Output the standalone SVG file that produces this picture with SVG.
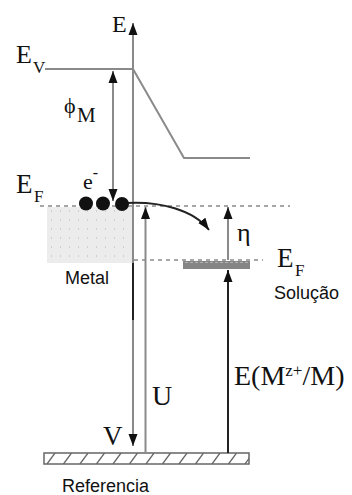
<svg xmlns="http://www.w3.org/2000/svg" width="352" height="495" viewBox="0 0 352 495">
<defs>
<style>
.ln{stroke:#8a8a8a;stroke-width:2;fill:none}
.dk{stroke:#222;stroke-width:2;fill:none}
.ds{stroke:#8a8a8a;stroke-width:1.5;stroke-dasharray:4 4;fill:none}
.sf{font-family:"Liberation Serif","Times New Roman",serif;fill:#111}
.ss{font-family:"Liberation Sans",Arial,sans-serif;fill:#111;font-size:18px}
.hatch{stroke:#666;stroke-width:1.3}
</style>
<marker id="ah" markerUnits="userSpaceOnUse" markerWidth="12" markerHeight="10" refX="12" refY="5" orient="auto-start-reverse" viewBox="0 0 12 10">
<path d="M0,0.5 L12,5 L0,9.5 z" fill="#111"/>
</marker>
<pattern id="dots" width="9" height="9" patternUnits="userSpaceOnUse" x="47" y="207">
<rect width="9" height="9" fill="#ececec"/>
<rect x="4" y="3" width="1" height="2" fill="#cfcfcf"/>
</pattern>
<clipPath id="barclip"><rect x="44" y="453" width="205" height="11"/></clipPath>
</defs>
<rect width="352" height="495" fill="#fff"/>

<g id="metal">
<rect x="47" y="207" width="85" height="56" fill="url(#dots)"/>
<text class="ss" x="65" y="284">Metal</text>
</g>

<g id="levels">
<line class="ds" x1="40" y1="206" x2="290" y2="206"/>
<line class="ds" x1="134" y1="260" x2="263" y2="260"/>
<path class="ln" d="M45,69 H133 L184,158 H250" stroke-width="1.8"/>
</g>

<g id="solution-level">
<rect x="183" y="261" width="67" height="8" fill="#858585"/>
<line x1="185" y1="262.5" x2="249" y2="262.5" stroke="#b0b0b0" stroke-width="1" stroke-dasharray="3 2"/>
<text class="sf" x="277" y="267" font-size="27">E</text>
<text class="sf" x="295" y="276" font-size="17">F</text>
<text class="ss" x="274" y="299">Solução</text>
</g>

<g id="reference">
<rect x="44" y="453" width="205" height="11" fill="#fff" stroke="#666" stroke-width="1.5"/>
<g clip-path="url(#barclip)" class="hatch">
<line x1="47" y1="464" x2="55" y2="453"/>
<line x1="63.5" y1="464" x2="71.5" y2="453"/>
<line x1="80" y1="464" x2="88" y2="453"/>
<line x1="96.5" y1="464" x2="104.5" y2="453"/>
<line x1="113" y1="464" x2="121" y2="453"/>
<line x1="129.5" y1="464" x2="137.5" y2="453"/>
<line x1="146" y1="464" x2="154" y2="453"/>
<line x1="162.5" y1="464" x2="170.5" y2="453"/>
<line x1="179" y1="464" x2="187" y2="453"/>
<line x1="195.5" y1="464" x2="203.5" y2="453"/>
<line x1="212" y1="464" x2="220" y2="453"/>
<line x1="228.5" y1="464" x2="236.5" y2="453"/>
<line x1="245" y1="464" x2="253" y2="453"/>
</g>
<text class="ss" x="62" y="492" font-size="18.5">Referencia</text>
</g>

<g id="connectors">
<line class="ln" x1="133" y1="443" x2="133" y2="69"/>
<line class="ln" x1="133" y1="69" x2="133" y2="23" marker-end="url(#ah)"/>
<line class="ln" x1="133" y1="320" x2="133" y2="446" marker-end="url(#ah)"/>
<line class="dk" x1="133" y1="263" x2="133" y2="320"/>
<line class="ln" x1="113" y1="71" x2="113" y2="201" marker-start="url(#ah)" marker-end="url(#ah)"/>
<line class="ln" x1="145.5" y1="453" x2="145.5" y2="207" marker-end="url(#ah)"/>
<line class="ln" x1="228" y1="260" x2="228" y2="207" marker-end="url(#ah)"/>
<line class="dk" x1="228" y1="453" x2="228" y2="270" stroke-width="1.6" marker-end="url(#ah)"/>
<path class="dk" d="M126,203 C160,201 194,210 209,230" marker-end="url(#ah)"/>
</g>

<g id="electrons">
<circle cx="86" cy="203.5" r="7" fill="#111"/>
<circle cx="103" cy="203.5" r="7" fill="#111"/>
<circle cx="122" cy="204" r="7" fill="#111"/>
<text class="sf" x="83" y="189" font-size="22">e<tspan font-size="16" dy="-11">-</tspan></text>
</g>

<g id="labels">
<text class="sf" x="112" y="32" font-size="24">E</text>
<text class="sf" x="16" y="63" font-size="26">E</text>
<text class="sf" x="33" y="73" font-size="17">V</text>
<text class="sf" x="64" y="113" font-size="22">ϕ</text>
<text class="sf" x="77" y="122" font-size="21">M</text>
<text class="sf" x="16" y="193" font-size="27">E</text>
<text class="sf" x="34" y="202" font-size="17">F</text>
<text class="sf" x="237" y="241" font-size="26">η</text>
<text class="sf" x="152" y="405" font-size="28">U</text>
<text class="sf" x="103" y="445" font-size="27">V</text>
<text class="sf" x="234" y="385" font-size="28">E(M<tspan font-size="17" dy="-9">z+</tspan><tspan dy="9">/M)</tspan></text>
</g>
</svg>
